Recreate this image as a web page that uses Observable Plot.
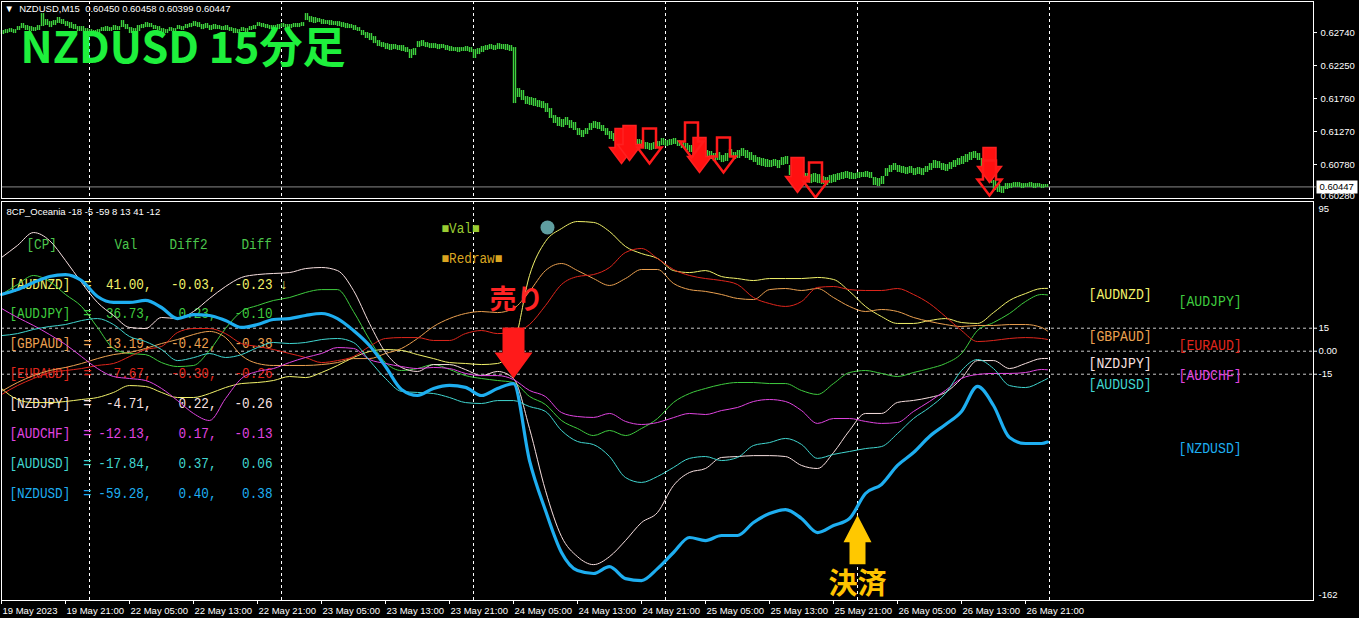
<!DOCTYPE html>
<html><head><meta charset="utf-8">
<script src="https://cdn.jsdelivr.net/npm/d3@7"></script>
<script src="https://cdn.jsdelivr.net/npm/@observablehq/plot@0.6"></script>
<style>
html,body{margin:0;padding:0;background:#000;}
#wrap{position:relative;width:1359px;height:618px;background:#000;overflow:hidden;}
#top{position:absolute;left:0;top:0;}
#bottom{position:absolute;left:0;top:200px;}
svg{display:block;}
</style></head><body><div id="wrap"><div id="top"></div><div id="bottom"></div></div>
<script>
// ---------- time axis ----------
const X_LABEL_BARS = [0,32,64,96,128,160,192,224,256,288,320,352,384,416,448,480,512];
const X_LABELS = ["19 May 2023","19 May 21:00","22 May 05:00","22 May 13:00","22 May 21:00","23 May 05:00","23 May 13:00","23 May 21:00","24 May 05:00","24 May 13:00","24 May 21:00","25 May 05:00","25 May 13:00","25 May 21:00","26 May 05:00","26 May 13:00","26 May 21:00"];
const GRID_BARS = [44,140,236,332,428,524];

// ---------- price panel (NZDUSD M15, one high/low pair per 2 bars) ----------
const PRICE_TICKS = [0.6274,0.6225,0.6176,0.6127,0.6078];
const PRICE_BOTTOM = [0.6028];
const LAST_OHLC = [0.60450,0.60458,0.60399,0.60447];
const priceHigh = [0.62770,0.62784,0.62799,0.62784,0.62829,0.62874,0.62844,0.62829,0.62814,0.62844,
0.63022,0.62933,0.62903,0.62918,0.62963,0.62933,0.62903,0.62888,0.62859,0.62829,
0.62829,0.62799,0.62784,0.62770,0.62784,0.62814,0.62829,0.62814,0.62844,0.62829,
0.62918,0.62859,0.62814,0.62799,0.62844,0.62859,0.62888,0.62874,0.62844,0.62829,
0.62799,0.62784,0.62814,0.62799,0.62844,0.62829,0.62859,0.62874,0.62903,0.62888,
0.62859,0.62874,0.62844,0.62859,0.62844,0.62829,0.62844,0.62814,0.62799,0.62784,
0.62814,0.62799,0.62829,0.62844,0.62888,0.62874,0.62859,0.62844,0.62844,0.62859,
0.62874,0.62859,0.62859,0.62874,0.62874,0.62888,0.63022,0.62977,0.62963,0.62948,
0.62933,0.62918,0.62918,0.62903,0.62903,0.62888,0.62874,0.62859,0.62844,0.62814,
0.62770,0.62740,0.62725,0.62680,0.62621,0.62591,0.62576,0.62562,0.62562,0.62547,
0.62547,0.62517,0.62487,0.62502,0.62606,0.62621,0.62591,0.62576,0.62576,0.62562,
0.62562,0.62547,0.62532,0.62517,0.62517,0.62517,0.62532,0.62517,0.62487,0.62502,
0.62532,0.62547,0.62562,0.62547,0.62576,0.62562,0.62562,0.62547,0.62517,0.61908,
0.61879,0.61789,0.61775,0.61760,0.61730,0.61715,0.61685,0.61611,0.61507,0.61478,
0.61448,0.61478,0.61433,0.61404,0.61314,0.61285,0.61314,0.61389,0.61418,0.61404,
0.61359,0.61314,0.61270,0.61240,0.61181,0.61151,0.61136,0.61121,0.61121,0.61151,
0.61136,0.61106,0.61092,0.61106,0.61121,0.61166,0.61136,0.61151,0.61166,0.61136,
0.61121,0.61092,0.61062,0.61032,0.61017,0.61002,0.60988,0.60973,0.60943,0.60958,
0.60913,0.60943,0.61002,0.60958,0.60988,0.61017,0.60988,0.60958,0.60913,0.60884,
0.60869,0.60854,0.60839,0.60854,0.60839,0.60884,0.60899,0.60765,0.60720,0.60691,
0.60661,0.60646,0.60631,0.60646,0.60631,0.60602,0.60587,0.60616,0.60631,0.60646,
0.60661,0.60676,0.60661,0.60646,0.60661,0.60661,0.60676,0.60661,0.60587,0.60572,
0.60602,0.60720,0.60765,0.60795,0.60765,0.60750,0.60735,0.60750,0.60720,0.60735,
0.60720,0.60750,0.60795,0.60839,0.60824,0.60795,0.60780,0.60809,0.60839,0.60869,
0.60899,0.60928,0.60958,0.60973,0.60943,0.60869,0.60765,0.60661,0.60542,0.60483,
0.60453,0.60497,0.60497,0.60512,0.60512,0.60497,0.60497,0.60512,0.60497,0.60497,0.60483,0.60483];
const priceLow = [0.62710,0.62725,0.62740,0.62725,0.62770,0.62799,0.62770,0.62755,0.62755,0.62770,
0.62829,0.62844,0.62814,0.62844,0.62874,0.62859,0.62829,0.62799,0.62784,0.62755,
0.62755,0.62725,0.62710,0.62695,0.62725,0.62755,0.62755,0.62755,0.62770,0.62770,
0.62814,0.62784,0.62725,0.62725,0.62755,0.62799,0.62814,0.62814,0.62784,0.62770,
0.62725,0.62725,0.62755,0.62740,0.62784,0.62770,0.62799,0.62814,0.62829,0.62814,
0.62784,0.62799,0.62770,0.62784,0.62784,0.62770,0.62770,0.62755,0.62725,0.62725,
0.62755,0.62740,0.62770,0.62784,0.62829,0.62814,0.62799,0.62784,0.62770,0.62784,
0.62814,0.62799,0.62799,0.62814,0.62814,0.62829,0.62918,0.62888,0.62874,0.62888,
0.62859,0.62859,0.62844,0.62844,0.62829,0.62814,0.62799,0.62799,0.62770,0.62755,
0.62695,0.62651,0.62621,0.62576,0.62532,0.62517,0.62487,0.62473,0.62487,0.62473,
0.62458,0.62443,0.62354,0.62398,0.62517,0.62532,0.62517,0.62502,0.62502,0.62487,
0.62502,0.62473,0.62458,0.62458,0.62443,0.62458,0.62458,0.62443,0.62354,0.62413,
0.62443,0.62473,0.62487,0.62473,0.62487,0.62487,0.62473,0.62458,0.61685,0.61775,
0.61730,0.61671,0.61656,0.61641,0.61626,0.61611,0.61552,0.61463,0.61389,0.61344,
0.61329,0.61359,0.61314,0.61285,0.61210,0.61181,0.61225,0.61285,0.61314,0.61299,
0.61270,0.61210,0.61151,0.61121,0.61077,0.61047,0.61017,0.61002,0.61032,0.61047,
0.61032,0.61002,0.60988,0.61002,0.61032,0.61062,0.61047,0.61062,0.61077,0.61047,
0.61017,0.60988,0.60958,0.60928,0.60899,0.60884,0.60869,0.60854,0.60824,0.60839,
0.60809,0.60824,0.60884,0.60854,0.60869,0.60899,0.60869,0.60839,0.60809,0.60765,
0.60750,0.60735,0.60735,0.60750,0.60720,0.60765,0.60780,0.60616,0.60572,0.60542,
0.60527,0.60512,0.60497,0.60512,0.60497,0.60483,0.60468,0.60497,0.60512,0.60542,
0.60557,0.60572,0.60557,0.60557,0.60572,0.60587,0.60587,0.60572,0.60468,0.60453,
0.60483,0.60602,0.60661,0.60691,0.60661,0.60646,0.60631,0.60646,0.60616,0.60631,
0.60616,0.60661,0.60691,0.60720,0.60720,0.60691,0.60676,0.60705,0.60735,0.60765,
0.60780,0.60809,0.60839,0.60869,0.60839,0.60720,0.60602,0.60497,0.60394,0.60364,
0.60349,0.60408,0.60423,0.60438,0.60438,0.60423,0.60438,0.60438,0.60423,0.60438,0.60423,0.60438];

// sell-signal arrows on the price panel
const sigBars   = [310, 314, 324, 345, 349, 361, 398, 407, 494, 494];
const sigPrice  = [0.60795, 0.60839, 0.60795, 0.60884, 0.60661, 0.60661, 0.60364, 0.60290, 0.60512, 0.60320];
const sigFilled = [1, 1, 0, 0, 1, 0, 1, 0, 1, 0];

// ---------- currency-strength panel ----------
const INDICATOR_TITLE = "8CP_Oceania -18 -5 -59 8 13 41 -12";
const cpNames = ["AUDNZD","AUDJPY","GBPAUD","EURAUD","NZDJPY","AUDCHF","AUDUSD","NZDUSD"];
const cpVal   = [41.00, 36.73, 13.19, 7.67, -4.71, -12.13, -17.84, -59.28];
const cpDiff2 = [-0.03, 0.23, -0.42, -0.30, 0.22, 0.17, 0.37, 0.40];
const cpDiff  = [-0.23, -0.10, -0.38, -0.26, -0.26, -0.13, 0.06, 0.38];
const barIdx = [0,8,16,24,32,40,48,56,64,72,80,88,96,104,112,120,128,136,144,152,160,168,176,184,192,200,208,216,224,232,240,248,256,264,272,280,288,296,304,312,320,328,336,344,352,360,368,376,384,392,400,408,416,424,432,440,448,456,464,472,480,488,496,504,512,520,523];
const sAUDNZD = [-24.3,-31.5,-33.5,-33.5,-32.8,-31.5,-30.2,-26.9,-22.4,-23.0,-26.9,-30.2,-30.2,-27.6,-23.7,-21.1,-20.4,-19.1,-16.5,-17.2,-13.9,-9.3,-4.1,-0.2,1.1,0.5,-2.2,-4.8,-7.4,-8.0,-8.7,-8.0,3.7,49.4,71.6,80.0,84.6,84.0,78.1,68.3,63.7,60.5,52.6,51.3,52.6,48.7,47.4,46.1,47.4,47.4,47.4,48.1,46.8,39.0,29.2,22.6,18.1,18.1,20.0,21.3,18.7,18.1,25.2,33.1,37.6,40.9,41.0];
const sAUDJPY = [37.0,43.5,49.4,45.5,37.0,29.2,15.5,1.8,-1.5,-2.2,-7.4,-10.0,-9.3,0.5,14.8,25.9,29.8,33.1,35.0,38.3,40.2,40.2,25.9,7.6,-7.4,-12.6,-11.3,-8.7,-11.9,-15.9,-17.8,-19.1,-20.4,-29.5,-34.8,-45.2,-50.4,-55.0,-51.7,-55.0,-50.4,-43.9,-33.4,-27.6,-24.3,-21.7,-20.4,-20.4,-21.1,-21.1,-25.6,-28.2,-21.1,-13.9,-12.6,-14.5,-16.5,-13.9,-11.3,-8.0,-1.5,13.5,18.7,24.6,32.4,37.0,36.73];
const sGBPAUD = [-26.2,-20.4,-15.9,-12.6,-10.6,-8.0,-4.8,-2.2,-0.8,1.8,5.0,7.6,10.9,12.9,8.9,-2.8,-8.0,-9.3,-9.3,-9.3,-8.7,-7.4,-4.8,-4.8,-1.5,1.8,8.3,16.1,21.3,24.6,25.9,25.2,27.9,39.0,52.6,57.2,52.6,47.4,42.9,47.4,53.3,53.3,44.2,40.2,39.0,37.0,34.4,33.7,40.2,40.9,39.6,40.9,35.0,29.2,25.9,27.2,25.9,22.0,19.4,17.4,16.1,16.8,16.8,17.4,17.4,15.5,13.19];
const sEURAUD = [-28.3,-22.4,-17.8,-13.9,-12.6,-11.3,-9.3,-8.0,-3.5,1.1,3.1,12.2,14.8,14.8,11.5,5.0,3.1,1.1,-1.5,-4.1,-7.4,-6.1,-3.5,3.1,8.3,8.9,8.9,7.0,7.0,11.5,13.5,11.5,12.2,17.4,29.8,43.5,48.7,50.0,54.6,64.4,67.0,60.5,53.3,49.4,47.4,46.1,43.5,35.0,31.1,29.2,32.4,41.6,42.2,40.2,39.6,39.6,40.9,37.0,31.1,22.6,13.5,6.3,7.0,8.3,8.9,8.3,7.67];
const sNZDJPY = [61.1,69.0,77.4,72.2,59.2,44.8,31.8,23.3,15.5,14.8,22.0,21.3,25.9,34.4,42.2,48.1,50.0,50.7,51.3,53.9,54.6,52.6,39.6,18.1,-0.8,-10.6,-13.2,-8.7,-8.7,-12.0,-15.9,-13.2,-17.8,-50.4,-90.9,-120.9,-134.0,-139.2,-134.0,-123.5,-111.8,-105.2,-87.6,-79.1,-76.5,-69.3,-68.7,-68.1,-68.1,-68.7,-74.5,-76.5,-66.1,-51.7,-40.6,-40.6,-33.4,-32.1,-30.2,-26.9,-17.8,-6.1,-6.1,-11.3,-8.0,-4.8,-4.71];
const sAUDCHF = [27.9,22.0,16.8,10.9,4.4,-3.5,-11.3,-16.5,-17.8,-19.1,-24.3,-32.2,-40.6,-45.2,-30.9,-17.8,-13.2,-11.3,-7.4,-4.1,-1.5,2.4,1.8,-5.4,-8.0,-10.0,-11.3,-10.6,-11.3,-14.5,-15.9,-15.9,-18.5,-25.6,-29.6,-40.0,-42.6,-43.2,-40.6,-45.8,-47.8,-46.5,-43.3,-40.6,-41.3,-38.7,-36.7,-32.8,-31.5,-32.8,-38.7,-47.1,-43.9,-43.9,-45.8,-47.1,-46.5,-39.3,-32.8,-25.6,-17.8,-15.2,-14.5,-14.5,-13.9,-11.9,-12.13];
const sAUDUSD = [10.2,11.5,14.2,16.1,17.4,20.0,21.3,17.4,9.6,6.3,1.1,-6.1,-4.2,-1.5,-4.1,-2.2,2.4,5.7,5.0,5.7,7.6,8.3,5.7,-6.1,-17.8,-26.2,-26.9,-27.6,-30.2,-33.5,-34.1,-32.2,-32.2,-36.1,-39.3,-51.7,-58.9,-60.9,-68.7,-82.4,-85.6,-81.7,-75.8,-69.9,-68.7,-71.3,-69.3,-61.5,-59.6,-56.9,-60.8,-69.9,-67.3,-65.4,-63.5,-62.2,-53.7,-43.9,-36.7,-27.6,-12.6,-5.4,-11.3,-22.4,-23.7,-19.8,-17.84];
const sNZDUSD = [37.0,40.2,44.8,48.7,50.0,46.1,35.7,31.8,31.8,33.1,28.5,21.3,23.9,23.3,20.0,15.5,17.4,20.7,21.3,23.3,24.6,21.3,13.5,3.7,-10.0,-25.0,-28.9,-24.3,-22.3,-23.6,-28.9,-24.3,-21.1,-71.3,-103.9,-131.3,-143.1,-145.0,-140.5,-148.3,-149.6,-141.8,-131.3,-121.5,-123.5,-120.2,-120.2,-111.7,-105.9,-103.3,-109.1,-118.3,-113.7,-109.1,-92.8,-86.9,-74.5,-66.1,-55.6,-47.8,-39.3,-23.0,-35.4,-56.3,-60.2,-60.2,-59.28];
const LEVEL_TICKS = [15, 0, -15];
const LEVEL_LABELS = ["15", "0.00", "-15"];
const LEVEL_TOP = [95], LEVEL_BOTTOM = [-162];

// trade annotations: entry (sell) and exit
const tradeBars   = [256, 428];
const tradeValues = [-17.8, -107.0];
const tradeLabels = ["売り", "決済"];

// ---------- styles ----------
const cpColors = ["#f2f26a","#3fcc3f","#eca150","#e0261c","#f8e0e0","#e044e0","#40d6d0","#1eaef0"];
const HEAD = "#4cc64c";
const BAR_GREEN = "#3fd23f";
const SMALL = "'Liberation Sans', Arial, sans-serif";
const MONO = "'Liberation Mono', 'DejaVu Sans Mono', monospace";
const CJK = "'Noto Sans CJK JP', 'Noto Sans', sans-serif";

const sigArrow = {draw(c){c.moveTo(-6.5,-35);c.lineTo(6.5,-35);c.lineTo(6.5,-16);c.lineTo(12,-16);c.lineTo(0,0);c.lineTo(-12,-16);c.lineTo(-6.5,-16);c.closePath();}};
const sellSym = {draw(c){c.moveTo(-11,-51);c.lineTo(11,-51);c.lineTo(11,-26);c.lineTo(19,-26);c.lineTo(0,0);c.lineTo(-19,-26);c.lineTo(-11,-26);c.closePath();}};
const exitSym = {draw(c){c.moveTo(0,0);c.lineTo(14,27);c.lineTo(8,27);c.lineTo(8,49);c.lineTo(-8,49);c.lineTo(-8,27);c.lineTo(-14,27);c.closePath();}};
const boxSym = {draw(c){c.moveTo(-20,-6.5);c.lineTo(21,-6.5);c.lineTo(21,6.5);c.lineTo(-20,6.5);c.closePath();}};

// ---------- top: price panel ----------
const priceData = priceHigh.map((h,i)=>({bar: 2*i, high: h, low: priceLow[i]}));
const sigData = sigBars.map((b,i)=>({bar:b, price:sigPrice[i], filled:sigFilled[i]}));
const headerText = "▼\u00a0 NZDUSD,M15\u00a0 " + LAST_OHLC.map(v=>v.toFixed(5)).join(" ");

const topSvg = Plot.plot({
  width: 1359, height: 200, marginTop: 1, marginBottom: 2, marginLeft: 1, marginRight: 46,
  style: {background: "#000", color: "#fff", overflow: "visible"},
  x: {domain: [0, 656], axis: null},
  y: {domain: [0.60275, 0.63201], axis: null},
  marks: [
    Plot.ruleX(GRID_BARS, {x: d=>d, stroke: "#fff", strokeDasharray: "3,3"}),
    Plot.ruleY([LAST_OHLC[3]], {y: d=>d, stroke: "#8a8a8a", insetRight: -3}),
    // each high/low sample is drawn as a pair of thin bar lines (two 15-minute slots)
    Plot.ruleX(priceData, {x: "bar", y1: "low", y2: "high", stroke: BAR_GREEN, strokeWidth: 1.4}),
    Plot.ruleX(priceData, {x: d=>d.bar+1, y1: "low", y2: "high", stroke: BAR_GREEN, strokeWidth: 1.4}),
    Plot.dot(sigData.filter(d=>d.filled), {x: "bar", y: "price", symbol: sigArrow, fill: "#ff1010", stroke: "#ff2020", strokeWidth: 1.5}),
    Plot.dot(sigData.filter(d=>!d.filled), {x: "bar", y: "price", symbol: sigArrow, fill: "none", stroke: "#ff1a1a", strokeWidth: 2.5}),
    Plot.frame({stroke: "#fff"}),
    Plot.ruleY(PRICE_TICKS, {y: d=>d, stroke: "#fff", insetLeft: 1312, insetRight: -4}),
    Plot.text(PRICE_TICKS, {y: d=>d, text: d=>d.toFixed(5), frameAnchor: "right", dx: 7, textAnchor: "start", fill: "#fff", fontSize: 9.5, fontFamily: SMALL}),
    Plot.text(PRICE_BOTTOM, {y: d=>d, text: d=>d.toFixed(5), frameAnchor: "right", dx: 7, dy: -2, textAnchor: "start", fill: "#fff", fontSize: 9.5, fontFamily: SMALL}),
    Plot.dot([LAST_OHLC[3]], {y: d=>d, frameAnchor: "right", dx: 23, symbol: boxSym, fill: "#fff", stroke: "none"}),
    Plot.text([LAST_OHLC[3]], {y: d=>d, text: d=>d.toFixed(5), frameAnchor: "right", dx: 6, textAnchor: "start", fill: "#000", fontSize: 9.5, fontFamily: SMALL}),
    Plot.text([headerText], {text: d=>d, frameAnchor: "top-left", dx: 3, dy: 7, lineAnchor: "middle", textAnchor: "start", fill: "#fff", fontSize: 9.5, fontFamily: SMALL}),
    Plot.text(["NZDUSD 15分足"], {text: d=>d, frameAnchor: "top-left", dx: 19, dy: 48, lineAnchor: "middle", textAnchor: "start", fill: "#1ef03c", fontSize: 43, fontWeight: "bold", fontFamily: CJK})
  ]
});
document.getElementById("top").appendChild(topSvg);

// ---------- bottom: strength panel ----------
function cell(str, dx, dy, fill, anchor = "start", tag = "cptable") {
  return Plot.text([str], {text: d=>d, frameAnchor: "top-left", dx, dy, fill, textAnchor: anchor, lineAnchor: "middle", fontFamily: MONO, fontSize: 14, ariaDescription: tag});
}
const fmt = v => v.toFixed(2);
const ROW0 = 88, ROWH = 29.9;
const tableMarks = [
  cell("[CP]", 26, 48, HEAD), cell("Val", 114, 48, HEAD), cell("Diff2", 169, 48, HEAD), cell("Diff", 241, 48, HEAD),
  ...cpNames.flatMap((n, k) => {
    const dy = ROW0 + ROWH * k, c = cpColors[k];
    return [cell(`[${n}]`, 9, dy, c), cell("=", 87, dy, c, "middle"), cell(fmt(cpVal[k]) + ",", 151, dy, c, "end"),
            cell(fmt(cpDiff2[k]) + ",", 216, dy, c, "end"), cell(fmt(cpDiff[k]), 272, dy, c, "end")];
  }),
  cell("↓", 279, ROW0, cpColors[0]),
  cell("■Val■", 441, 32, "#9acd32"),
  cell("■Redraw■", 441, 62, "#daa520")
];
const rightPos = [[1088,98],[1178,105],[1088,140],[1178,149],[1088,167],[1178,179],[1088,188],[1178,252]];
const rightMarks = cpNames.map((n, k) => cell(`[${n}]`, rightPos[k][0], rightPos[k][1], cpColors[k], "start", "cpright"));
const seriesVals = [sAUDNZD, sAUDJPY, sGBPAUD, sEURAUD, sNZDJPY, sAUDCHF, sAUDUSD, sNZDUSD];
const lineMarks = cpNames.map((n, k) => Plot.line(barIdx.map((b, i) => ({bar: b, v: seriesVals[k][i]})),
  {x: "bar", y: "v", stroke: cpColors[k], strokeWidth: n === "NZDUSD" ? 3.2 : 1, curve: "monotone-x"}));
const trades = tradeBars.map((b, i) => ({bar: b, v: tradeValues[i], label: tradeLabels[i]}));

const bottomSvg = Plot.plot({
  width: 1359, height: 418, marginTop: 1, marginBottom: 18, marginLeft: 1, marginRight: 46,
  style: {background: "#000", color: "#fff", overflow: "visible"},
  x: {domain: [0, 656], axis: null},
  y: {domain: [-162.6, 97.65], axis: null},
  marks: [
    Plot.ruleX(GRID_BARS, {x: d=>d, stroke: "#fff", strokeDasharray: "3,3"}),
    Plot.ruleY(LEVEL_TICKS, {y: d=>d, stroke: "#c8c8c8", strokeDasharray: "3,3"}),
    Plot.text([INDICATOR_TITLE], {text: d=>d, frameAnchor: "top-left", dx: 5, dy: 10, lineAnchor: "middle", fill: "#fff", fontSize: 9.5, fontFamily: SMALL}),
    ...tableMarks,
    ...rightMarks,
    Plot.dot([0], {frameAnchor: "top-left", dx: 546, dy: 26, r: 7, fill: "#5f9ea0", stroke: "none"}),
    ...lineMarks,
    Plot.dot([trades[0]], {x: "bar", y: "v", symbol: sellSym, fill: "#ff1a1a", stroke: "none"}),
    Plot.text([trades[0]], {x: "bar", y: "v", text: "label", dx: 3, dy: -78, fill: "#ff2424", fontSize: 27, fontWeight: "bold", fontFamily: CJK}),
    Plot.dot([trades[1]], {x: "bar", y: "v", symbol: exitSym, fill: "#ffc800", stroke: "none"}),
    Plot.text([trades[1]], {x: "bar", y: "v", text: "label", dy: 69, fill: "#ffc400", fontSize: 29, fontWeight: "bold", fontFamily: CJK}),
    Plot.frame({stroke: "#fff"}),
    Plot.ruleY(LEVEL_TICKS, {y: d=>d, stroke: "#fff", insetLeft: 1312, insetRight: -4}),
    Plot.text(LEVEL_TICKS, {y: d=>d, text: (d, i) => LEVEL_LABELS[i], frameAnchor: "right", dx: 5, textAnchor: "start", fill: "#fff", fontSize: 9.5, fontFamily: SMALL}),
    Plot.text(LEVEL_TOP, {y: d=>d, text: d=>String(d), frameAnchor: "right", dx: 5, dy: 3, textAnchor: "start", fill: "#fff", fontSize: 9.5, fontFamily: SMALL}),
    Plot.text(LEVEL_BOTTOM, {y: d=>d, text: d=>String(d), frameAnchor: "right", dx: 5, dy: -5, textAnchor: "start", fill: "#fff", fontSize: 9.5, fontFamily: SMALL}),
    Plot.ruleX(X_LABEL_BARS, {x: d=>d, stroke: "#fff", insetTop: 399, insetBottom: -4}),
    Plot.text(X_LABEL_BARS, {x: d=>d, text: (d, i) => X_LABELS[i], frameAnchor: "bottom", dx: 1, dy: 10, textAnchor: "start", lineAnchor: "middle", fill: "#fff", fontSize: 9.5, fontFamily: SMALL})
  ]
});
document.getElementById("bottom").appendChild(bottomSvg);
// narrow, tall terminal-style lettering for the indicator's text
function squeeze(tag, w, sy) {
  d3.select(bottomSvg).selectAll(`g[aria-description="${tag}"] text`).each(function() {
    const s = this.textContent;
    if (s.length > 1) { this.setAttribute("textLength", s.length * w); this.setAttribute("lengthAdjust", "spacingAndGlyphs"); }
    const x = +(this.getAttribute("x") || 0), y = +(this.getAttribute("y") || 0);
    const prev = this.getAttribute("transform") || "";
    this.removeAttribute("x"); this.removeAttribute("y");
    this.setAttribute("transform", `${prev} translate(${x},${y}) scale(1,${sy})`);
  });
}
squeeze("cptable", 7.6, 1.2);
squeeze("cpright", 7.9, 1.2);
</script></body></html>
